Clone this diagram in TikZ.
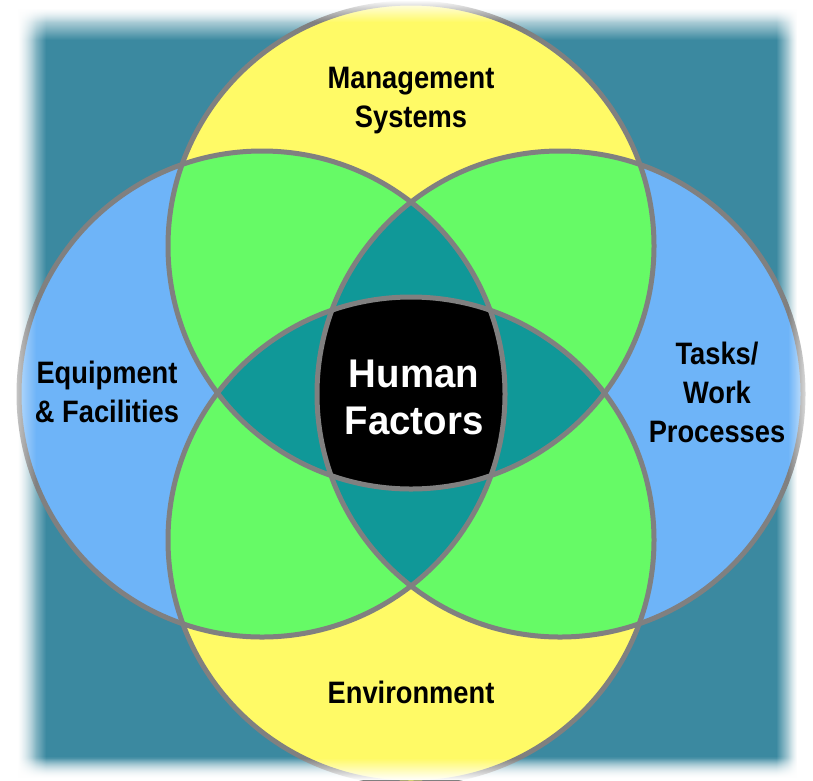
\documentclass[tikz,border=0pt]{standalone}
\usepackage{fontspec}
\usepackage{xcolor}
\usepackage{tikz}
\usetikzlibrary{fadings}
\newfontfamily\labfont{Liberation Sans}[FakeStretch=0.88]
\newfontfamily\hffont{Liberation Sans}[FakeStretch=0.96]
\definecolor{bg}{HTML}{3B89A0}
\definecolor{sun}{HTML}{FFFA66}
\definecolor{sky}{HTML}{6EB4F8}
\definecolor{leaf}{HTML}{66FA66}
\definecolor{deep}{HTML}{109898}
\definecolor{rim}{HTML}{808080}
\tikzfading[name=fromleft, left color=transparent!0, right color=transparent!100]
\tikzfading[name=fromright, left color=transparent!100, right color=transparent!0]
\tikzfading[name=fromtop, top color=transparent!0, bottom color=transparent!100]
\tikzfading[name=frombottom, top color=transparent!100, bottom color=transparent!0]
\tikzset{
  rimline/.style={draw=rim, line width=5pt},
  lab/.style={font=\labfont\bfseries\fontsize{31}{39}\selectfont, align=center, text=black},
  core/.style={font=\hffont\bfseries\fontsize{40}{47}\selectfont, align=center, text=white},
  soft/.style={fill=white, path fading=#1},
}

\begin{document}
\begin{tikzpicture}[x=1pt,y=-1pt]
  \def\r{243}
  \useasboundingbox (0,0) rectangle (813,780);
  \clip (0,0) rectangle (813,780);
  \coordinate (T) at (411,246);
  \coordinate (L) at (262,394);
  \coordinate (R) at (560,394);
  \coordinate (B) at (411,540);

  % backdrop, soft edges
  \fill[bg] (0,0) rectangle (813,780);
  \fill[white] (0,0) rectangle (18,780);
  \fill[white] (0,0) rectangle (813,8);
  \fill[white] (797,0) rectangle (813,780);
  \fill[white] (0,778) rectangle (813,780);
  \fill[soft=fromleft] (18,0) rectangle (46,780);
  \fill[soft=fromtop] (0,8) rectangle (813,40);
  \fill[soft=fromright] (776,0) rectangle (797,780);
  \fill[soft=frombottom] (0,756) rectangle (813,778);

  % the four rings
  \fill[sun] (T) circle (\r);
  \fill[sun] (B) circle (\r);
  \fill[sky] (L) circle (\r);
  \fill[sky] (R) circle (\r);
  \foreach \a/\b in {T/L,T/R,B/L,B/R}{
    \begin{scope}
      \clip (\a) circle (\r);
      \fill[leaf] (\b) circle (\r);
    \end{scope}
  }
  \foreach \a/\b/\c in {T/L/R,B/L/R,L/T/B,R/T/B}{
    \begin{scope}
      \clip (\a) circle (\r);
      \clip (\b) circle (\r);
      \fill[deep] (\c) circle (\r);
    \end{scope}
  }
  \begin{scope}
    \clip (T) circle (\r);
    \clip (B) circle (\r);
    \clip (L) circle (\r);
    \fill[black] (R) circle (\r);
  \end{scope}
  \foreach \c in {T,L,R,B} \draw[rimline] (\c) circle (\r);

  \node[lab] (mgmt) at (411,101) {Management\\Systems};
  \node[lab] (equip) at (107,392) {Equipment\\\& Facilities};
  \node[lab] (tasks) at (717,392) {Tasks/\\Work\\Processes};
  \node[lab] (env) at (411,692) {Environment};
  \node[core] (hf) at (414,397) {Human\\Factors};

  % outer fade
  \fill[soft=fromleft] (0,0) rectangle (36,780);
  \fill[soft=fromtop] (0,0) rectangle (813,22);
  \fill[soft=fromright] (788,0) rectangle (813,780);
  \fill[soft=frombottom] (0,758) rectangle (813,780);
\end{tikzpicture}
\end{document}
